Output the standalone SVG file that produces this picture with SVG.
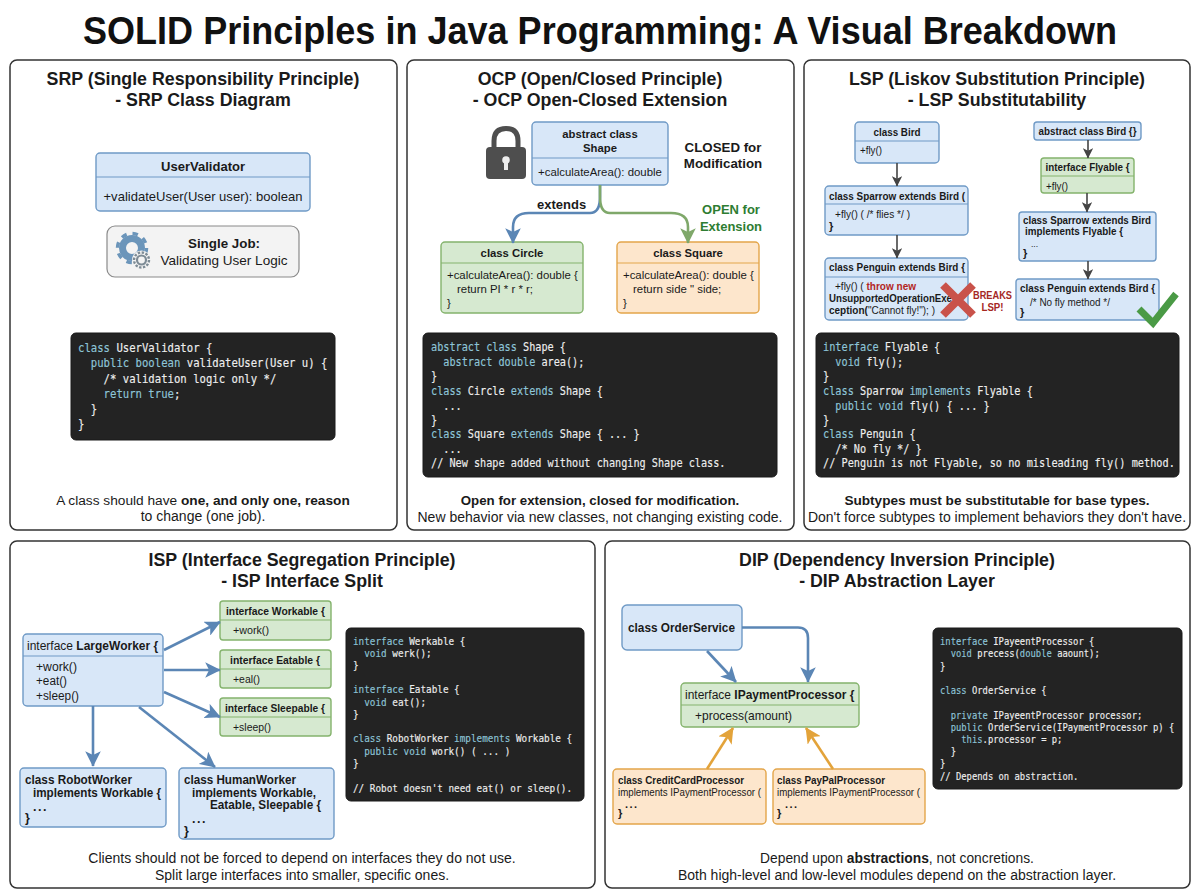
<svg xmlns="http://www.w3.org/2000/svg" width="1200" height="896" viewBox="0 0 1200 896">
<defs>
<style>
text{font-family:"Liberation Sans",Arial,sans-serif;fill:#1a1a1a}
.title{font-size:38.5px;font-weight:700;text-anchor:middle;fill:#111}
.ph{font-size:17.8px;font-weight:700;text-anchor:middle;fill:#1a1a1a}
.cap{font-size:14px;text-anchor:middle}
.capb{font-size:13.3px;font-weight:700;text-anchor:middle}
.panel{fill:#fff;stroke:#333;stroke-width:1.5}
.b{fill:#d8e7f8;stroke:#6f9ac6;stroke-width:1.4}
.g{fill:#d6e9d0;stroke:#84b36c;stroke-width:1.4}
.o{fill:#fde6cc;stroke:#e3a54a;stroke-width:1.4}
.dv{fill:none;stroke-width:1.2}
.dvb{stroke:#6f9ac6}.dvg{stroke:#84b36c}.dvo{stroke:#e3a54a}
.t{font-size:11.4px}
.tb{font-size:11.3px;font-weight:700}
.s{font-size:11px}
.c{text-anchor:middle}
.bd{font-weight:700}
.codebox{fill:#232323;stroke:#1a1a1a}
.code text{font-family:"DejaVu Sans Mono","Liberation Mono",monospace;fill:#eeeeee;white-space:pre;stroke:#eeeeee;stroke-width:.15}
.code .k{fill:#8ec5d8;stroke:#8ec5d8}
.cb{fill:none;stroke:#5b86b5;stroke-width:2.6}
.cg{fill:none;stroke:#7fa86a;stroke-width:2.6}
.cd{fill:none;stroke:#444;stroke-width:1.6}
.co{fill:none;stroke:#e3a33a;stroke-width:2.6}
</style>
<marker id="ab" viewBox="0 0 10 10" refX="9.500" refY="5" markerWidth="6" markerHeight="6" markerUnits="strokeWidth" orient="auto"><path d="M0 0L10 5L0 10L2.500 5Z" fill="#5b86b5"/></marker>
<marker id="ag" viewBox="0 0 10 10" refX="9.500" refY="5" markerWidth="6" markerHeight="6" markerUnits="strokeWidth" orient="auto"><path d="M0 0L10 5L0 10L2.500 5Z" fill="#7fa86a"/></marker>
<marker id="ad" viewBox="0 0 10 10" refX="9.500" refY="5" markerWidth="6.500" markerHeight="6.500" markerUnits="strokeWidth" orient="auto"><path d="M0 0L10 5L0 10L2.500 5Z" fill="#444"/></marker>
<marker id="ao" viewBox="0 0 10 10" refX="9.500" refY="5" markerWidth="6" markerHeight="6" markerUnits="strokeWidth" orient="auto"><path d="M0 0L10 5L0 10L2.500 5Z" fill="#e3a33a"/></marker>
</defs>
<rect width="1200" height="896" fill="#fff"/>
<text class="title" x="600" y="44" textLength="1034" lengthAdjust="spacingAndGlyphs">SOLID Principles in Java Programming: A Visual Breakdown</text>

<g id="panels">
<rect class="panel" x="10" y="60" width="387" height="470" rx="7"/>
<rect class="panel" x="407" y="60" width="387" height="470" rx="7"/>
<rect class="panel" x="804" y="60" width="386" height="470" rx="7"/>
<rect class="panel" x="10" y="541" width="585" height="347" rx="7"/>
<rect class="panel" x="605" y="541" width="585" height="347" rx="7"/>
</g>

<g id="panel-titles">
<text class="ph" x="203" y="85">SRP (Single Responsibility Principle)</text>
<text class="ph" x="203" y="106">- SRP Class Diagram</text>
<text class="ph" x="600" y="85">OCP (Open/Closed Principle)</text>
<text class="ph" x="600" y="106">- OCP Open-Closed Extension</text>
<text class="ph" x="997" y="85">LSP (Liskov Substitution Principle)</text>
<text class="ph" x="997" y="106">- LSP Substitutability</text>
<text class="ph" x="302" y="566">ISP (Interface Segregation Principle)</text>
<text class="ph" x="302" y="587">- ISP Interface Split</text>
<text class="ph" x="897" y="566">DIP (Dependency Inversion Principle)</text>
<text class="ph" x="897" y="587">- DIP Abstraction Layer</text>
</g>

<g id="srp-uservalidator">
<rect class="b" x="96" y="153" width="214" height="58" rx="4"/>
<path class="dv dvb" d="M96 177H310"/>
<text class="tb c" x="203" y="171" style="font-size:13.5px" textLength="84" lengthAdjust="spacingAndGlyphs">UserValidator</text>
<text class="t c" x="203" y="201" style="font-size:13.5px" textLength="199" lengthAdjust="spacingAndGlyphs">+validateUser(User user): boolean</text>
</g>
<g id="srp-single-job">
<rect x="107" y="226" width="192" height="51" rx="8" fill="#f3f3f3" stroke="#8a8a8a" stroke-width="1.2"/>
<circle cx="132" cy="248" r="9.500" fill="none" stroke="#6b95ba" stroke-width="7"/>
<circle cx="132" cy="248" r="14.500" fill="none" stroke="#6b95ba" stroke-width="3.500" stroke-dasharray="5.500 5.900"/>
<circle cx="141.500" cy="260" r="9.500" fill="#f3f3f3"/>
<circle cx="141.500" cy="260" r="4.500" fill="none" stroke="#7d8b95" stroke-width="2.200"/>
<circle cx="141.500" cy="260" r="7.500" fill="none" stroke="#7d8b95" stroke-width="2.400" stroke-dasharray="2.400 1.520"/>
<text class="tb c" x="224" y="248" style="font-size:13.5px" textLength="72" lengthAdjust="spacingAndGlyphs">Single Job:</text>
<text class="t c" x="224" y="265" style="font-size:13.5px" textLength="127" lengthAdjust="spacingAndGlyphs">Validating User Logic</text>
</g>
<g id="srp-code">
<rect class="codebox" x="71" y="333" width="264" height="107" rx="5"/>
<g class="code" transform="translate(78,0) scale(.925,1)" font-size="11.500">
<text y="352"><tspan class="k">class</tspan> UserValidator {</text>
<text y="367"><tspan class="k">  public boolean</tspan> validateUser(User u) {</text>
<text y="383">    /* validation logic only */</text>
<text y="398"><tspan class="k">    return true</tspan>;</text>
<text y="413">  }</text>
<text y="428">}</text>
</g>
</g>
<text class="cap" x="203" y="505" style="font-size:13.700px">A class should have <tspan class="bd">one, and only one, reason</tspan></text>
<text class="cap" x="203" y="521">to change (one job).</text>

<g id="ocp-lock">
<path d="M494 150V141Q494 128.500 506 128.500Q518 128.500 518 141V150" fill="none" stroke="#4e4e4e" stroke-width="5"/>
<rect x="486" y="147" width="40" height="32" rx="4" fill="#4e4e4e"/>
<circle cx="506" cy="160" r="3.800" fill="#eee"/>
<rect x="504" y="161" width="4" height="9" fill="#eee"/>
</g>
<g id="ocp-shape">
<rect class="b" x="532" y="122" width="136" height="63" rx="4"/>
<path class="dv dvb" d="M532 158H668"/>
<text class="tb c" x="600" y="138">abstract class</text>
<text class="tb c" x="600" y="152">Shape</text>
<text class="t c" x="600" y="176">+calculateArea(): double</text>
</g>
<g id="ocp-labels">
<text class="tb c" x="723" y="152" style="font-size:13.3px">CLOSED for</text>
<text class="tb c" x="723" y="168" style="font-size:13.3px">Modification</text>
<text class="tb" x="537" y="209" style="font-size:13px">extends</text>
<text class="tb c" x="731" y="214" style="font-size:13px;fill:#2e7d32">OPEN for</text>
<text class="tb c" x="731" y="231" style="font-size:13px;fill:#2e7d32">Extension</text>
</g>
<g id="ocp-circle">
<rect class="g" x="441" y="242" width="142" height="71" rx="4"/>
<path class="dv dvg" d="M441 263H583"/>
<text class="tb c" x="512" y="257">class Circle</text>
<text class="t" x="447" y="279">+calculateArea(): double {</text>
<text class="t" x="457" y="293">return PI * r * r;</text>
<text class="t" x="447" y="307">}</text>
</g>
<g id="ocp-square">
<rect class="o" x="617" y="242" width="142" height="71" rx="4"/>
<path class="dv dvo" d="M617 263H759"/>
<text class="tb c" x="688" y="257">class Square</text>
<text class="t" x="623" y="279">+calculateArea(): double {</text>
<text class="t" x="633" y="293">return side " side;</text>
<text class="t" x="623" y="307">}</text>
</g>
<g id="ocp-code">
<rect class="codebox" x="423" y="333" width="354" height="144" rx="5"/>
<g class="code" transform="translate(431,0) scale(.85,1)" font-size="12">
<text y="351"><tspan class="k">abstract class</tspan> Shape {</text>
<text y="366"><tspan class="k">  abstract double</tspan> area();</text>
<text y="380">}</text>
<text y="395"><tspan class="k">class</tspan> Circle <tspan class="k">extends</tspan> Shape {</text>
<text y="410">  ...</text>
<text y="424">}</text>
<text y="438"><tspan class="k">class</tspan> Square <tspan class="k">extends</tspan> Shape { ... }</text>
<text y="453">  ...</text>
<text y="467">// New shape added without changing Shape class.</text>
</g>
</g>
<text class="capb" x="600" y="505">Open for extension, closed for modification.</text>
<text class="cap" x="600" y="522">New behavior via new classes, not changing existing code.</text>

<g id="lsp-bird">
<rect class="b" x="855" y="122" width="84" height="41" rx="4"/>
<path class="dv dvb" d="M855 141H939"/>
<text class="tb s c" x="897" y="136" textLength="47" lengthAdjust="spacingAndGlyphs">class Bird</text>
<text class="t s" x="860" y="154" textLength="22" lengthAdjust="spacingAndGlyphs">+fly()</text>
</g>
<g id="lsp-sparrow">
<rect class="b" x="825" y="186" width="143" height="49" rx="4"/>
<path class="dv dvb" d="M825 204H968"/>
<text class="tb s" x="829" y="200" textLength="136" lengthAdjust="spacingAndGlyphs">class Sparrow extends Bird (</text>
<text class="t s" x="835" y="218" textLength="75" lengthAdjust="spacingAndGlyphs">+fly() ( /* flies */ )</text>
<text class="tb s" x="829" y="230">}</text>
</g>
<g id="lsp-penguin">
<rect class="b" x="825" y="258" width="143" height="62" rx="4"/>
<path class="dv dvb" d="M825 277H968"/>
<text class="tb s" x="829" y="271" textLength="136" lengthAdjust="spacingAndGlyphs">class Penguin extends Bird {</text>
<text class="t s" x="835" y="290" textLength="81" lengthAdjust="spacingAndGlyphs">+fly() ( <tspan class="bd" fill="#b3261e">throw new</tspan></text>
<text class="tb s" x="829" y="302" textLength="123" lengthAdjust="spacingAndGlyphs">UnsupportedOperationExe</text>
<text class="t s" x="829" y="314" textLength="106" lengthAdjust="spacingAndGlyphs"><tspan class="bd">ception(</tspan>"Cannot fly!"); )</text>
</g>
<g id="lsp-breaks">
<path d="M943 285L973 315M973 285L943 315" stroke="#c9524a" stroke-width="8" fill="none"/>
<text class="tb c" x="992.500" y="299" style="fill:#a5281f;font-size:11.500px" textLength="39" lengthAdjust="spacingAndGlyphs">BREAKS</text>
<text class="tb c" x="992.500" y="311" style="fill:#a5281f;font-size:11.500px" textLength="22" lengthAdjust="spacingAndGlyphs">LSP!</text>
</g>
<g id="lsp-abstract-bird">
<rect class="b" x="1034" y="122" width="107" height="18" rx="3"/>
<text class="tb s c" x="1087.500" y="135" textLength="98" lengthAdjust="spacingAndGlyphs">abstract class Bird {}</text>
</g>
<g id="lsp-flyable">
<rect class="g" x="1041" y="158" width="93" height="35" rx="3"/>
<path class="dv dvg" d="M1041 176H1134"/>
<text class="tb s" x="1045.500" y="171" textLength="84" lengthAdjust="spacingAndGlyphs">interface Flyable {</text>
<text class="t s" x="1046" y="190" textLength="22" lengthAdjust="spacingAndGlyphs">+fly()</text>
</g>
<g id="lsp-sparrow2">
<rect class="b" x="1019" y="212" width="137" height="49" rx="3"/>
<text class="tb s" x="1023" y="224" textLength="128" lengthAdjust="spacingAndGlyphs">class Sparrow extends Bird</text>
<text class="tb s" x="1025" y="235" textLength="98" lengthAdjust="spacingAndGlyphs">implements Flyable {</text>
<text class="t" x="1031" y="247" style="font-size:8.500px">...</text>
<text class="tb s" x="1023" y="257">}</text>
</g>
<g id="lsp-penguin2">
<rect class="b" x="1016" y="279" width="143" height="41" rx="3"/>
<text class="tb s" x="1020" y="292" textLength="135" lengthAdjust="spacingAndGlyphs">class Penguin extends Bird {</text>
<text class="t s" x="1030" y="306" textLength="80" lengthAdjust="spacingAndGlyphs">/* No fly method */</text>
<text class="tb s" x="1020" y="316">}</text>
<path d="M1139 309L1153 323L1176 294" fill="none" stroke="#4a9a45" stroke-width="7"/>
</g>
<g id="lsp-code">
<rect class="codebox" x="816" y="333" width="363" height="144" rx="5"/>
<g class="code" transform="translate(823,0) scale(.855,1)" font-size="12">
<text y="351"><tspan class="k">interface</tspan> Flyable {</text>
<text y="366"><tspan class="k">  void</tspan> fly();</text>
<text y="380">}</text>
<text y="395"><tspan class="k">class</tspan> Sparrow <tspan class="k">implements</tspan> Flyable {</text>
<text y="410"><tspan class="k">  public void</tspan> fly() { ... }</text>
<text y="424">}</text>
<text y="438"><tspan class="k">class</tspan> Penguin {</text>
<text y="453">  /* No fly */ }</text>
<text y="467">// Penguin is not Flyable, so no misleading fly() method.</text>
</g>
</g>
<text class="capb" x="997" y="505" style="font-size:13.6px">Subtypes must be substitutable for base types.</text>
<text class="cap" x="997" y="522">Don't force subtypes to implement behaviors they don't have.</text>

<g id="isp-largeworker">
<rect class="b" x="23" y="634" width="140" height="72" rx="4"/>
<path class="dv dvb" d="M23 656H163"/>
<text class="t" x="27" y="650" style="font-size:12px">interface <tspan class="bd">LargeWorker {</tspan></text>
<text class="t" x="36" y="671" style="font-size:12.500px" textLength="41" lengthAdjust="spacingAndGlyphs">+work()</text>
<text class="t" x="36" y="685" style="font-size:12.500px" textLength="31" lengthAdjust="spacingAndGlyphs">+eat()</text>
<text class="t" x="36" y="700" style="font-size:12.500px" textLength="43" lengthAdjust="spacingAndGlyphs">+sleep()</text>
</g>
<g id="isp-workable">
<rect class="g" x="220" y="601" width="111" height="39" rx="3"/>
<path class="dv dvg" d="M220 620H331"/>
<text class="tb" x="226" y="615" textLength="99" lengthAdjust="spacingAndGlyphs">interface Workable {</text>
<text class="t" x="233" y="634" textLength="36" lengthAdjust="spacingAndGlyphs">+work()</text>
</g>
<g id="isp-eatable">
<rect class="g" x="220" y="650" width="111" height="38" rx="3"/>
<path class="dv dvg" d="M220 669H331"/>
<text class="tb" x="230" y="664" textLength="90" lengthAdjust="spacingAndGlyphs">interface Eatable {</text>
<text class="t" x="233" y="683" textLength="27" lengthAdjust="spacingAndGlyphs">+eal()</text>
</g>
<g id="isp-sleepable">
<rect class="g" x="220" y="698" width="111" height="38" rx="3"/>
<path class="dv dvg" d="M220 717H331"/>
<text class="tb" x="225" y="712" textLength="100" lengthAdjust="spacingAndGlyphs">interface Sleepable {</text>
<text class="t" x="233" y="731" textLength="38" lengthAdjust="spacingAndGlyphs">+sleep()</text>
</g>
<g id="isp-robotworker">
<rect class="b" x="20" y="768" width="146" height="59" rx="4"/>
<text class="tb" x="25" y="784" style="font-size:12.500px" textLength="107" lengthAdjust="spacingAndGlyphs">class RobotWorker</text>
<text class="tb" x="33" y="797" style="font-size:12.500px" textLength="128" lengthAdjust="spacingAndGlyphs">implements Workable {</text>
<text class="tb" x="33" y="811" style="font-size:12.500px;letter-spacing:1.500px">...</text>
<text class="tb" x="25" y="822" style="font-size:12.500px">}</text>
</g>
<g id="isp-humanworker">
<rect class="b" x="179" y="768" width="155" height="71" rx="4"/>
<text class="tb" x="184" y="784" style="font-size:12.500px" textLength="112" lengthAdjust="spacingAndGlyphs">class HumanWorker</text>
<text class="tb" x="192" y="797" style="font-size:12.500px" textLength="124" lengthAdjust="spacingAndGlyphs">implements Workable,</text>
<text class="tb" x="210" y="809" style="font-size:12.500px" textLength="111" lengthAdjust="spacingAndGlyphs">Eatable, Sleepable {</text>
<text class="tb" x="192" y="823" style="font-size:12.500px;letter-spacing:1.500px">...</text>
<text class="tb" x="184" y="835" style="font-size:12.500px">}</text>
</g>
<g id="isp-code">
<rect class="codebox" x="346" y="628" width="238" height="173" rx="5"/>
<g class="code" transform="translate(353,0) scale(.85,1)" font-size="11">
<text y="645"><tspan class="k">interface</tspan> Werkable {</text>
<text y="657"><tspan class="k">  void</tspan> werk();</text>
<text y="669">}</text>
<text y="693"><tspan class="k">interface</tspan> Eatable {</text>
<text y="706"><tspan class="k">  void</tspan> eat();</text>
<text y="718">}</text>
<text y="742"><tspan class="k">class</tspan> RobotWorker <tspan class="k">implements</tspan> Workable {</text>
<text y="755"><tspan class="k">  public void</tspan> work() ( ... )</text>
<text y="767">}</text>
<text y="792">// Robot doesn't need eat() or sleep().</text>
</g>
</g>
<text class="cap" x="302" y="863">Clients should not be forced to depend on interfaces they do not use.</text>
<text class="cap" x="302" y="880">Split large interfaces into smaller, specific ones.</text>

<g id="dip-orderservice">
<rect class="b" x="622" y="605" width="120" height="45" rx="5"/>
<text class="tb" x="628" y="632" style="font-size:13px" textLength="107" lengthAdjust="spacingAndGlyphs">class OrderService</text>
</g>
<g id="dip-ipayment">
<rect class="g" x="681" y="683" width="178" height="44" rx="4"/>
<path class="dv dvg" d="M681 705H859"/>
<text class="t" x="685" y="699" style="font-size:12px">interface <tspan class="bd">IPaymentProcessor {</tspan></text>
<text class="t" x="695" y="720" style="font-size:13.500px" textLength="97" lengthAdjust="spacingAndGlyphs">+process(amount)</text>
</g>
<g id="dip-creditcard">
<rect class="o" x="613" y="769" width="153" height="55" rx="4"/>
<text class="tb s" x="618" y="784" textLength="126" lengthAdjust="spacingAndGlyphs">class CreditCardProcessor</text>
<text class="t s" x="618" y="796" textLength="143" lengthAdjust="spacingAndGlyphs">implements IPaymentProcessor (</text>
<text class="tb s" x="625" y="808" style="letter-spacing:1.500px">...</text>
<text class="tb s" x="618" y="817">}</text>
</g>
<g id="dip-paypal">
<rect class="o" x="773" y="769" width="152" height="55" rx="4"/>
<text class="tb s" x="777" y="784" textLength="108" lengthAdjust="spacingAndGlyphs">class PayPalProcessor</text>
<text class="t s" x="777" y="796" textLength="143" lengthAdjust="spacingAndGlyphs">implements IPaymentProcessor (</text>
<text class="tb s" x="785" y="808" style="letter-spacing:1.500px">...</text>
<text class="tb s" x="777" y="817">}</text>
</g>
<g id="dip-code">
<rect class="codebox" x="933" y="628" width="249" height="161" rx="5"/>
<g class="code" transform="translate(940,0) scale(.82,1)" font-size="10.800">
<text y="645"><tspan class="k">interface</tspan> IPayeentProcessor {</text>
<text y="657"><tspan class="k">  void</tspan> precess(<tspan class="k">double</tspan> aaount);</text>
<text y="670">}</text>
<text y="694"><tspan class="k">class</tspan> OrderService {</text>
<text y="719"><tspan class="k">  private</tspan> IPayeentProcessor processor;</text>
<text y="731"><tspan class="k">  public</tspan> OrderService(IPaymentProcessor p) {</text>
<text y="743"><tspan class="k">    this</tspan>.processor = p;</text>
<text y="755">  }</text>
<text y="767">}</text>
<text y="780">// Depends on abstraction.</text>
</g>
</g>
<text class="cap" x="897" y="863" style="font-size:13.800px">Depend upon <tspan class="bd">abstractions</tspan>, not concretions.</text>
<text class="cap" x="897" y="880">Both high-level and low-level modules depend on the abstraction layer.</text>

<g id="connectors">
<path class="cb" marker-end="url(#ab)" d="M600 185V197Q600 213 590 213H529Q513 213 513 227V243"/>
<path class="cg" marker-end="url(#ag)" d="M600 185V197Q600 213 610 213H671Q688 213 688 227V243"/>
<path class="cd" marker-end="url(#ad)" d="M897 163V186"/>
<path class="cd" marker-end="url(#ad)" d="M897 235V258"/>
<path class="cd" marker-end="url(#ad)" d="M1088 140V158"/>
<path class="cd" marker-end="url(#ad)" d="M1087 193V212"/>
<path class="cd" marker-end="url(#ad)" d="M1088 261V279"/>
<path class="cb" marker-end="url(#ab)" d="M164 650L220 622"/>
<path class="cb" marker-end="url(#ab)" d="M164 670H220"/>
<path class="cb" marker-end="url(#ab)" d="M164 692L220 717"/>
<path class="cb" marker-end="url(#ab)" d="M93 706V766"/>
<path class="cb" marker-end="url(#ab)" d="M139 707L215 767"/>
<path class="cb" marker-end="url(#ab)" d="M707 651L736 682"/>
<path class="cb" marker-end="url(#ab)" d="M742 627.500H798Q808 627.500 808 638V682"/>
<path class="co" marker-end="url(#ao)" d="M707 769L733 728"/>
<path class="co" marker-end="url(#ao)" d="M833 769L806 728"/>
</g>
</svg>
